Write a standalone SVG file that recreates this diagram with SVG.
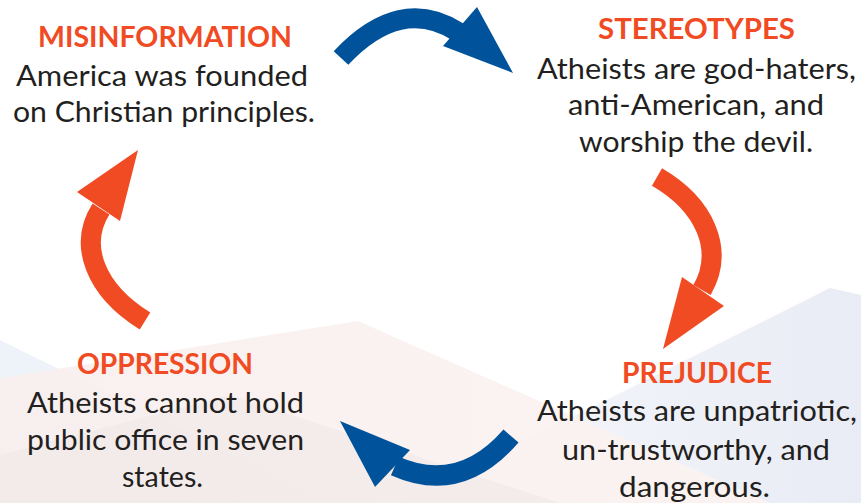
<svg xmlns="http://www.w3.org/2000/svg" width="861" height="503" viewBox="0 0 861 503">
<defs>
<style>
.h{font-family:Lato,"Open Sans","Liberation Sans",sans-serif;font-weight:bold;font-size:28px;fill:#F04B23;text-anchor:middle}
.b{font-family:Lato,"Open Sans","Liberation Sans",sans-serif;font-size:29px;fill:#231F20;text-anchor:middle}
.ob{fill:none;stroke:#F04B23;stroke-width:20}
.bb{fill:none;stroke:#00539B;stroke-width:20}
.oh{fill:#F04B23}
.bh{fill:#00539B}
</style>
<linearGradient id="gBlue" x1="0" y1="0" x2="1" y2="0">
<stop offset="0" stop-color="#F7F8FC"/>
<stop offset="1" stop-color="#E9ECF5"/>
</linearGradient>
<linearGradient id="gPink" x1="0" y1="0" x2="1" y2="0">
<stop offset="0" stop-color="#F8EFEE"/>
<stop offset="1" stop-color="#FCF3F1"/>
</linearGradient>
</defs>
<rect width="861" height="503" fill="#FFFFFF"/>
<g id="background">
<polygon points="400,503 830,288 861,295 861,503" fill="url(#gBlue)"/>
<polygon points="0,340 330,503 0,503" fill="#EEF3F9"/>
<polygon points="0,378 358,321 770,503 0,503" fill="url(#gPink)" opacity="0.92"/>
<polygon points="0,455 230,395 560,503 0,503" fill="#EDE4E4" opacity="0.45"/>
</g>
<g id="connectors">
<path class="bb" d="M341,58 Q400,-5 458,32"/>
<polygon class="bh" points="477,7 513,73 443,46"/>
<path class="ob" d="M657,177 C705,205 725,250 702,290"/>
<polygon class="oh" points="682,277 724,306 663,349"/>
<path class="bb" d="M511,436 Q460,495 395,466"/>
<polygon class="bh" points="410,450 375,487 340,421"/>
<path class="ob" d="M145,321 C95,290 78,245 101,209"/>
<polygon class="oh" points="77,192 138,150 120,221"/>
</g>
<g id="misinformation">
<text class="h" x="165" y="47" textLength="254" lengthAdjust="spacingAndGlyphs">MISINFORMATION</text>
<text class="b" x="162" y="86" textLength="292" lengthAdjust="spacingAndGlyphs">America was founded</text>
<text class="b" x="164" y="122" textLength="302" lengthAdjust="spacingAndGlyphs">on Christian principles.</text>
</g>
<g id="stereotypes">
<text class="h" x="696.5" y="39" textLength="197" lengthAdjust="spacingAndGlyphs">STEREOTYPES</text>
<text class="b" x="696.5" y="79" textLength="319" lengthAdjust="spacingAndGlyphs">Atheists are god-haters,</text>
<text class="b" x="696" y="115" textLength="256" lengthAdjust="spacingAndGlyphs">anti-American, and</text>
<text class="b" x="696" y="152" textLength="234" lengthAdjust="spacingAndGlyphs">worship the devil.</text>
</g>
<g id="prejudice">
<text class="h" x="697" y="383" textLength="150" lengthAdjust="spacingAndGlyphs">PREJUDICE</text>
<text class="b" x="697" y="421" textLength="320" lengthAdjust="spacingAndGlyphs">Atheists are unpatriotic,</text>
<text class="b" x="696" y="460" textLength="268" lengthAdjust="spacingAndGlyphs">un-trustworthy, and</text>
<text class="b" x="694.5" y="497" textLength="151" lengthAdjust="spacingAndGlyphs">dangerous.</text>
</g>
<g id="oppression">
<text class="h" x="165" y="374" textLength="176" lengthAdjust="spacingAndGlyphs">OPPRESSION</text>
<text class="b" x="165.5" y="413" textLength="277" lengthAdjust="spacingAndGlyphs">Atheists cannot hold</text>
<text class="b" x="165.5" y="450" textLength="277" lengthAdjust="spacingAndGlyphs">public office in seven</text>
<text class="b" x="162.5" y="487" textLength="81" lengthAdjust="spacingAndGlyphs">states.</text>
</g>
</svg>
